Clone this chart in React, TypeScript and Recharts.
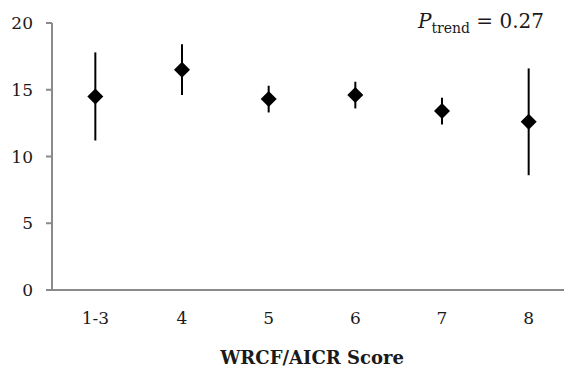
import React from 'react';
import { ComposedChart, Line, XAxis, YAxis, ErrorBar } from 'recharts';

const scores = ['1-3', '4', '5', '6', '7', '8'];
const means = [14.5, 16.5, 14.3, 14.6, 13.4, 12.6];
const lowers = [11.2, 14.6, 13.3, 13.6, 12.4, 8.6];
const uppers = [17.8, 18.4, 15.3, 15.6, 14.4, 16.6];
const yTicks = [0, 5, 10, 15, 20];

const data = scores.map((score, i) => ({
  score,
  mean: means[i],
  err: [means[i] - lowers[i], uppers[i] - means[i]],
}));

const axisGray = '#8a8a8a';
const serif = '"DejaVu Serif", serif';

const Diamond = (props: any) => {
  const { cx, cy, index } = props;
  const r = 8;
  return (
    <path
      key={`d-${index}`}
      d={`M${cx},${cy - r} L${cx + r},${cy} L${cx},${cy + r} L${cx - r},${cy} Z`}
      fill="#000"
    />
  );
};

export default function App() {
  return (
    <div
      style={{
        position: 'absolute',
        left: 0,
        top: 0,
        width: 564,
        height: 375,
        overflow: 'hidden',
        background: '#fff',
      }}
    >
      <ComposedChart width={575} height={375} data={data} margin={{ top: 23, right: 3, left: 0, bottom: 0 }}>
        <XAxis
          dataKey="score"
          scale="band"
          height={85}
          axisLine={{ stroke: axisGray, strokeWidth: 2 }}
          tickLine={false}
          tickSize={0}
          tickMargin={22}
          tick={{ fill: '#1a1a1a', fontSize: 17, fontFamily: serif }}
        />
        <YAxis
          domain={[0, 20]}
          ticks={yTicks}
          width={52}
          axisLine={{ stroke: axisGray, strokeWidth: 2 }}
          tickLine={{ stroke: axisGray, strokeWidth: 2 }}
          tickSize={6}
          tickMargin={13}
          tick={{ fill: '#1a1a1a', fontSize: 17, fontFamily: serif }}
        />
        <Line
          dataKey="mean"
          stroke="none"
          dot={Diamond}
          activeDot={false}
          isAnimationActive={false}
        >
          <ErrorBar dataKey="err" width={0} strokeWidth={2} stroke="#000" direction="y" />
        </Line>
      </ComposedChart>
      <div
        style={{
          position: 'absolute',
          right: 20,
          top: 8,
          fontFamily: serif,
          fontSize: 20,
          color: '#1a1a1a',
          lineHeight: '26px',
          whiteSpace: 'nowrap',
        }}
      >
        <i>P</i>
        <sub style={{ fontSize: 14 }}>trend</sub> = 0.27
      </div>
      <div
        style={{
          position: 'absolute',
          left: 52,
          width: 520,
          top: 347,
          textAlign: 'center',
          fontFamily: serif,
          fontWeight: 'bold',
          fontSize: 18,
          color: '#1a1a1a',
        }}
      >
        WRCF/AICR Score
      </div>
    </div>
  );
}
